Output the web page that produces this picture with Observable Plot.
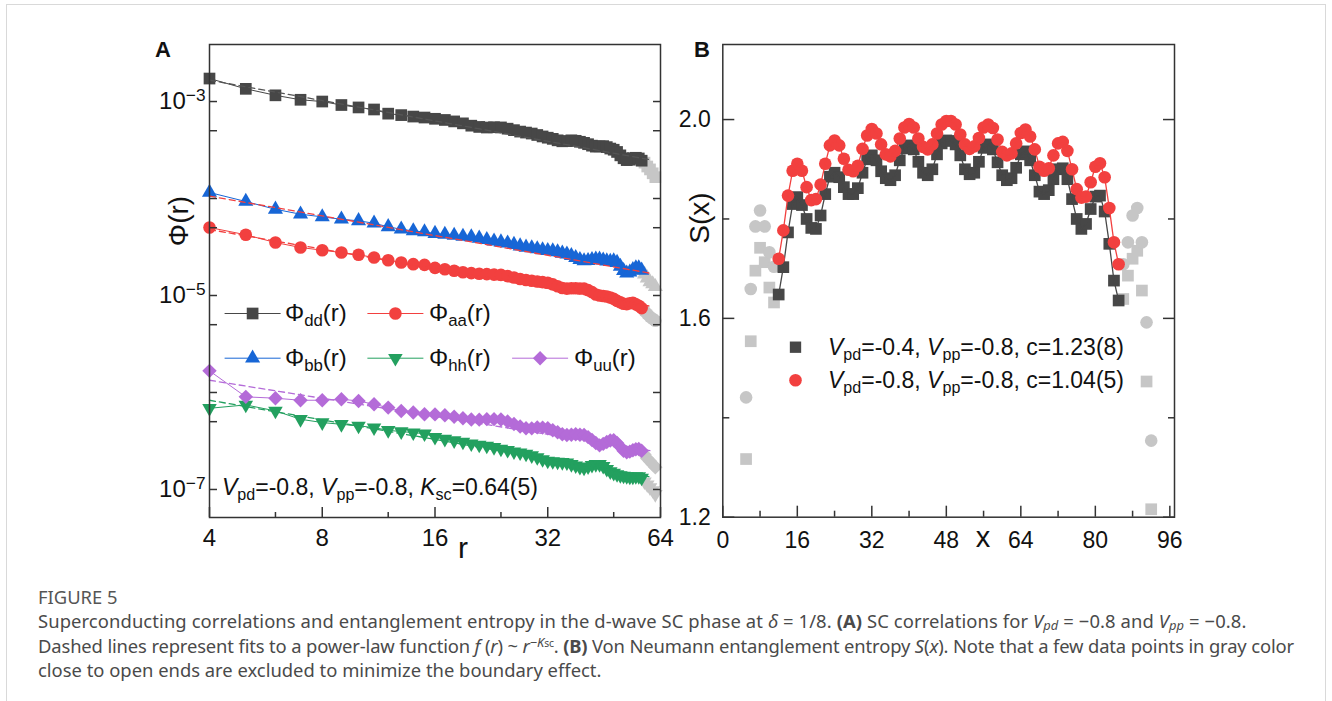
<!DOCTYPE html>
<html><head><meta charset="utf-8">
<script src="https://cdn.jsdelivr.net/npm/d3@7"></script>
<script src="https://cdn.jsdelivr.net/npm/@observablehq/plot@0.6"></script>
<style>
html,body{margin:0;padding:0;background:#fff;}
body{width:1332px;height:701px;position:relative;overflow:hidden;font-family:"Liberation Sans",Arial,sans-serif;color:#111;}
#border{position:absolute;left:6px;top:4px;width:1320px;height:760px;border:1px solid #d9d9d9;box-sizing:border-box;}
.abs{position:absolute;white-space:nowrap;line-height:1;transform:translateY(-50%);}
.rot{position:absolute;white-space:nowrap;line-height:1;transform:translate(-50%,-50%) rotate(-90deg);}
.ctr{position:absolute;white-space:nowrap;line-height:1;transform:translate(-50%,-50%);}
.sb{position:relative;top:0.28em;font-size:0.7em;}
.cap{position:absolute;left:38px;white-space:nowrap;font-family:"Noto Sans","Open Sans",sans-serif;font-size:18.4px;color:#4a4a4a;line-height:1;transform:translateY(-50%);}
.cap .s{position:relative;top:0.15em;font-size:0.7em;line-height:1;}
.cap .p{position:relative;top:-0.4em;font-size:0.7em;line-height:1;}
#A,#B{position:absolute;}
</style></head><body>
<div id="border"></div>
<div id="A" style="left:100px;top:20px;width:580px;height:560px;"></div>
<div id="B" style="left:660px;top:20px;width:540px;height:580px;"></div>

<div class="abs" style="left:155px;top:50px;font-size:22px;font-weight:bold;">A</div>
<div class="abs" style="left:694px;top:50px;font-size:22px;font-weight:bold;">B</div>
<div class="rot" style="left:179px;top:221px;font-size:28px;">Φ(r)</div>
<div class="ctr" style="left:463px;top:548px;font-size:30px;">r</div>
<div class="rot" style="left:700px;top:218px;font-size:28px;">S(x)</div>
<div class="ctr" style="left:983px;top:537px;font-size:29px;">x</div>

<div class="abs" style="left:285px;top:313px;font-size:24px;">Φ<span class="sb">dd</span>(r)</div>
<div class="abs" style="left:429px;top:313px;font-size:24px;">Φ<span class="sb">aa</span>(r)</div>
<div class="abs" style="left:285px;top:358px;font-size:24px;">Φ<span class="sb">bb</span>(r)</div>
<div class="abs" style="left:429px;top:358px;font-size:24px;">Φ<span class="sb">hh</span>(r)</div>
<div class="abs" style="left:574px;top:358px;font-size:24px;">Φ<span class="sb">uu</span>(r)</div>
<div class="abs" style="left:222px;top:487px;font-size:23px;"><i>V</i><span class="sb">pd</span>=-0.8, <i>V</i><span class="sb">pp</span>=-0.8, <i>K</i><span class="sb">sc</span>=0.64(5)</div>

<div class="abs" style="left:828px;top:347px;font-size:23px;"><i>V</i><span class="sb">pd</span>=-0.4, <i>V</i><span class="sb">pp</span>=-0.8, c=1.23(8)</div>
<div class="abs" style="left:828px;top:380px;font-size:23px;"><i>V</i><span class="sb">pd</span>=-0.8, <i>V</i><span class="sb">pp</span>=-0.8, c=1.04(5)</div>

<div class="cap" style="top:597px;color:#555;">FIGURE 5</div>
<div class="cap" style="top:621px;letter-spacing:0.1px;">Superconducting correlations and entanglement entropy in the d-wave SC phase at <i>δ</i> = 1/8. <b>(A)</b> SC correlations for <i>V</i><span class="s"><i>pd</i></span> = −0.8 and <i>V</i><span class="s"><i>pp</i></span> = −0.8.</div>
<div class="cap" style="top:645.5px;letter-spacing:-0.14px;">Dashed lines represent fits to a power-law function <i>f</i> (<i>r</i>) ~ <i>r</i><span class="p">−<i>K</i><span style="font-size:0.8em">sc</span></span>. <b>(B)</b> Von Neumann entanglement entropy <i>S</i>(<i>x</i>). Note that a few data points in gray color</div>
<div class="cap" style="top:670px;">close to open ends are excluded to minimize the boundary effect.</div>

<script>
// ---------- Panel A data (log10 of Φ(r)) ----------
const rCore = d3.range(4, 58);   // colored points r = 4..57
const rEdge = d3.range(58, 63);  // gray points r = 58..62
const phiDdLog = [-2.763,-2.869,-2.936,-2.982,-3.000,-3.036,-3.061,-3.082,-3.125,-3.140,-3.155,-3.165,-3.178,-3.190,-3.205,-3.225,-3.249,-3.262,-3.268,-3.265,-3.267,-3.280,-3.295,-3.310,-3.320,-3.330,-3.345,-3.360,-3.373,-3.385,-3.400,-3.410,-3.408,-3.400,-3.405,-3.415,-3.426,-3.440,-3.455,-3.465,-3.462,-3.460,-3.470,-3.485,-3.497,-3.520,-3.555,-3.585,-3.604,-3.600,-3.585,-3.580,-3.587,-3.610];
const phiBbLog = [-3.938,-4.031,-4.111,-4.162,-4.189,-4.214,-4.230,-4.255,-4.292,-4.317,-4.334,-4.345,-4.361,-4.370,-4.380,-4.390,-4.396,-4.410,-4.425,-4.440,-4.449,-4.460,-4.475,-4.490,-4.503,-4.510,-4.520,-4.530,-4.538,-4.540,-4.550,-4.565,-4.574,-4.590,-4.610,-4.630,-4.644,-4.640,-4.630,-4.625,-4.627,-4.635,-4.645,-4.650,-4.644,-4.660,-4.700,-4.745,-4.769,-4.760,-4.735,-4.715,-4.716,-4.740];
const phiAaLog = [-4.299,-4.374,-4.454,-4.505,-4.533,-4.557,-4.580,-4.608,-4.636,-4.660,-4.677,-4.684,-4.715,-4.730,-4.745,-4.760,-4.769,-4.775,-4.780,-4.785,-4.787,-4.800,-4.815,-4.830,-4.840,-4.848,-4.855,-4.862,-4.868,-4.885,-4.905,-4.922,-4.929,-4.925,-4.925,-4.928,-4.929,-4.945,-4.965,-4.990,-5.000,-5.005,-5.010,-5.020,-5.035,-5.055,-5.070,-5.085,-5.089,-5.080,-5.075,-5.090,-5.106,-5.130];
const phiHhLog = [-6.163,-6.128,-6.190,-6.276,-6.310,-6.328,-6.344,-6.362,-6.390,-6.403,-6.414,-6.424,-6.460,-6.480,-6.495,-6.510,-6.528,-6.540,-6.550,-6.565,-6.582,-6.595,-6.610,-6.620,-6.634,-6.650,-6.670,-6.690,-6.705,-6.710,-6.715,-6.720,-6.723,-6.740,-6.755,-6.770,-6.776,-6.765,-6.750,-6.740,-6.740,-6.760,-6.790,-6.815,-6.830,-6.845,-6.855,-6.860,-6.865,-6.870,-6.870,-6.865,-6.865,-6.880];
const phiUuLog = [-5.777,-6.045,-6.059,-6.080,-6.080,-6.070,-6.087,-6.122,-6.156,-6.190,-6.207,-6.225,-6.226,-6.235,-6.250,-6.265,-6.279,-6.280,-6.275,-6.275,-6.279,-6.300,-6.325,-6.350,-6.368,-6.370,-6.360,-6.362,-6.368,-6.390,-6.410,-6.430,-6.439,-6.435,-6.430,-6.435,-6.439,-6.460,-6.490,-6.520,-6.545,-6.530,-6.510,-6.495,-6.492,-6.520,-6.560,-6.600,-6.617,-6.610,-6.595,-6.585,-6.582,-6.600];
const edgeDdLog = [-3.630,-3.670,-3.700,-3.740,-3.780];
const edgeBbLog = [-4.780,-4.820,-4.860,-4.880,-4.910];
const edgeAaLog = [-5.160,-5.190,-5.220,-5.240,-5.260];
const edgeHhLog = [-6.920,-6.950,-6.980,-7.010,-7.050];
const edgeUuLog = [-6.640,-6.680,-6.710,-6.740,-6.770];
// power-law fit end points (r, log10 Φ)
const fitR = [4, 60];
const fitDdLog = [-2.780, -3.600];
const fitBbLog = [-3.975, -4.770];
const fitAaLog = [-4.320, -5.110];
const fitHhLog = [-6.080, -6.870];
const fitUuLog = [-5.874, -6.600];
const xTicksA = [4, 8, 16, 32, 64];
const xMinorA = [6, 12, 24, 48];
const yLabelA = [1e-7, 1e-5, 1e-3];
const yTicksA = [1e-7, 5e-7, 1e-6, 5e-6, 1e-5, 5e-5, 1e-4, 5e-4, 1e-3];

// ---------- Panel B data ----------
const xCore = d3.range(12, 86);
const xEdgeL = d3.range(5, 12);
const xEdgeR = d3.range(86, 93);
const sRed = [1.720,1.777,1.847,1.897,1.911,1.897,1.864,1.838,1.840,1.869,1.911,1.948,1.958,1.948,1.921,1.899,1.896,1.907,1.941,1.968,1.981,1.972,1.950,1.930,1.926,1.937,1.962,1.984,1.991,1.984,1.962,1.945,1.940,1.950,1.972,1.990,1.997,1.997,1.990,1.970,1.950,1.941,1.946,1.963,1.984,1.990,1.983,1.960,1.935,1.928,1.932,1.952,1.973,1.980,1.966,1.940,1.905,1.897,1.902,1.928,1.952,1.955,1.937,1.900,1.860,1.843,1.845,1.874,1.905,1.912,1.884,1.822,1.753,1.709];
const sDark = [1.648,1.703,1.773,1.830,1.844,1.828,1.800,1.782,1.780,1.807,1.850,1.885,1.893,1.884,1.864,1.850,1.850,1.862,1.893,1.920,1.928,1.918,1.896,1.882,1.878,1.888,1.918,1.942,1.948,1.940,1.915,1.893,1.888,1.900,1.930,1.952,1.958,1.957,1.950,1.928,1.900,1.890,1.893,1.915,1.943,1.950,1.940,1.914,1.888,1.878,1.882,1.903,1.930,1.936,1.918,1.888,1.855,1.850,1.858,1.880,1.900,1.902,1.880,1.840,1.800,1.780,1.790,1.820,1.845,1.847,1.815,1.750,1.676,1.636];
const grayCircL = [1.441,1.659,1.785,1.817,1.785,1.733,1.704];
const graySqL = [1.317,1.554,1.696,1.742,1.713,1.662,1.632];
const grayCircR = [1.709,1.753,1.807,1.822,1.753,1.592,1.354];
const graySqR = [1.639,1.686,1.720,1.736,1.656,1.473,1.216];
const xTicksB = [0, 16, 32, 48, 64, 80, 96];
const xMinorB = [8, 24, 40, 56, 72, 88];
const yTicksB = [1.2, 1.6, 2.0];
const yMinorB = [1.4, 1.8];

// ---------- styles ----------
const cDd = "#474747", cAa = "#f2403f", cBb = "#1766d6", cHh = "#23a05f", cUu = "#b46bd8", cGray = "#c6c6c6";
const axisStroke = "#333";
const font = "Liberation Sans, Arial, sans-serif";

const rowsLog = (xs, ls) => xs.map((x, i) => ({x, v: Math.pow(10, ls[i])}));
const rows = (xs, vs) => xs.map((x, i) => ({x, v: vs[i]}));
const triDown = {draw(ctx, size) { const y = -Math.sqrt(size / (Math.sqrt(3) * 3)); ctx.moveTo(0, -2 * y); ctx.lineTo(-Math.sqrt(3) * y, y); ctx.lineTo(Math.sqrt(3) * y, y); ctx.closePath(); }};
const hline = {draw(ctx) { ctx.moveTo(-28, 0); ctx.lineTo(28, 0); }};

const seriesA = [
  {core: phiDdLog, edge: edgeDdLog, fit: fitDdLog, color: cDd, fitColor: "#555", symbol: "square", r: 6.6},
  {core: phiBbLog, edge: edgeBbLog, fit: fitBbLog, color: cBb, fitColor: cAa, symbol: "triangle", r: 5.6},
  {core: phiAaLog, edge: edgeAaLog, fit: fitAaLog, color: cAa, fitColor: cAa, symbol: "circle", r: 6.3},
  {core: phiHhLog, edge: edgeHhLog, fit: fitHhLog, color: cHh, fitColor: cHh, symbol: triDown, r: 5.4},
  {core: phiUuLog, edge: edgeUuLog, fit: fitUuLog, color: cUu, fitColor: cUu, symbol: "diamond2", r: 6.5}
];

const marksA = [];
for (const s of seriesA) {
  marksA.push(Plot.dot(rowsLog(rEdge, s.edge), {x: "x", y: "v", symbol: s.symbol, r: s.r, fill: cGray}));
}
for (const s of seriesA) {
  const d = rowsLog(rCore, s.core);
  marksA.push(Plot.dot(d, {x: "x", y: "v", symbol: s.symbol, r: s.r, fill: s.color}));
  marksA.push(Plot.line(d, {x: "x", y: "v", stroke: s.color, strokeWidth: 1}));
}
for (const s of seriesA) {
  marksA.push(Plot.line(rowsLog(fitR, s.fit), {x: "x", y: "v", stroke: s.fitColor, strokeWidth: 1.3, strokeDasharray: "6,4"}));
}
// legend swatches (screen space, relative to the frame's top-left corner)
const legA = [
  {dx: 43.1, dy: 269, s: seriesA[0]}, {dx: 185.9, dy: 269, s: seriesA[2]},
  {dx: 43.1, dy: 313.7, s: seriesA[1]}, {dx: 185.9, dy: 313.7, s: seriesA[3]}, {dx: 330.6, dy: 313.7, s: seriesA[4]}
];
for (const l of legA) {
  marksA.push(Plot.dot([0], {frameAnchor: "top-left", dx: l.dx, dy: l.dy, symbol: hline, r: 5, fill: "none", stroke: l.s.color, strokeWidth: 1}));
  marksA.push(Plot.dot([0], {frameAnchor: "top-left", dx: l.dx, dy: l.dy, symbol: l.s.symbol, r: l.s.r, fill: l.s.color}));
}

const figA = Plot.plot({
  width: 580, height: 560,
  marginLeft: 109, marginRight: 20, marginTop: 24, marginBottom: 63,
  x: {type: "log", base: 2, domain: [4, 64]},
  y: {type: "log", domain: [Math.pow(10, -7.289), Math.pow(10, -2.412)]},
  style: {fontFamily: font, fontSize: "24px", color: "#111", background: "transparent", overflow: "visible"},
  marks: [
    ...marksA,
    Plot.frame({stroke: axisStroke, strokeWidth: 1.5}),
    Plot.axisX(xTicksA, {tickSize: 0, tickPadding: 11, label: null, tickFormat: d => String(d)}),
    Plot.axisX(xTicksA, {tickSize: -10, fill: "none", label: null, stroke: axisStroke, strokeWidth: 1.5}),
    Plot.axisX(xMinorA, {tickSize: -5, fill: "none", label: null, stroke: axisStroke, strokeWidth: 1.5}),
    Plot.axisY(yLabelA, {tickSize: 0, tickPadding: 4, label: null, tickFormat: d => "10|−" + Math.round(-Math.log10(d))}),
    Plot.axisY(yTicksA, {anchor: "left", tickSize: -8, fill: "none", label: null, stroke: axisStroke, strokeWidth: 1.5}),
    Plot.axisY(yTicksA, {anchor: "right", tickSize: -8, fill: "none", label: null, stroke: axisStroke, strokeWidth: 1.5})
  ]
});
document.getElementById("A").appendChild(figA);
d3.select(figA).selectAll("text").each(function() {
  const t = this.textContent;
  if (t.indexOf("|") < 0) return;
  const [b, e] = t.split("|");
  this.textContent = b;
  d3.select(this).append("tspan").attr("dy", "-0.45em").attr("font-size", "0.72em").text(e);
});

// ---------- Panel B ----------
const figB = Plot.plot({
  width: 540, height: 580,
  marginLeft: 62.3, marginRight: 26, marginTop: 24, marginBottom: 83.3,
  x: {domain: [0, 97]},
  y: {domain: [1.2, 2.151]},
  style: {fontFamily: font, fontSize: "23px", color: "#111", background: "transparent", overflow: "visible"},
  marks: [
    Plot.dot(rows(xEdgeL, graySqL), {x: "x", y: "v", symbol: "square", r: 6.6, fill: cGray}),
    Plot.dot(rows(xEdgeR, graySqR), {x: "x", y: "v", symbol: "square", r: 6.6, fill: cGray}),
    Plot.dot(rows(xEdgeL, grayCircL), {x: "x", y: "v", symbol: "circle", r: 6.3, fill: cGray}),
    Plot.dot(rows(xEdgeR, grayCircR), {x: "x", y: "v", symbol: "circle", r: 6.3, fill: cGray}),
    Plot.dot(rows(xCore, sDark), {x: "x", y: "v", symbol: "square", r: 6.6, fill: cDd}),
    Plot.line(rows(xCore, sDark), {x: "x", y: "v", stroke: cDd, strokeWidth: 1.3}),
    Plot.dot(rows(xCore, sRed), {x: "x", y: "v", symbol: "circle", r: 6.3, fill: cAa}),
    Plot.line(rows(xCore, sRed), {x: "x", y: "v", stroke: cAa, strokeWidth: 1.3}),
    Plot.dot([0], {frameAnchor: "top-left", dx: 72.7, dy: 302.7, symbol: "square", r: 6.4, fill: cDd}),
    Plot.dot([0], {frameAnchor: "top-left", dx: 72.7, dy: 335.7, symbol: "circle", r: 6.3, fill: cAa}),
    Plot.frame({stroke: axisStroke, strokeWidth: 1.5}),
    Plot.axisX(xTicksB, {tickSize: 0, tickPadding: 14, label: null, tickFormat: d => String(d)}),
    Plot.axisX(xTicksB, {tickSize: -11, fill: "none", label: null, stroke: axisStroke, strokeWidth: 1.5}),
    Plot.axisX(xMinorB, {tickSize: -6, fill: "none", label: null, stroke: axisStroke, strokeWidth: 1.5}),
    Plot.axisY(yTicksB, {tickSize: 0, tickPadding: 12, label: null, tickFormat: d3.format(".1f")}),
    Plot.axisY(yTicksB, {anchor: "left", tickSize: -12, fill: "none", label: null, stroke: axisStroke, strokeWidth: 1.5}),
    Plot.axisY(yMinorB, {anchor: "left", tickSize: -7, fill: "none", label: null, stroke: axisStroke, strokeWidth: 1.5}),
    Plot.axisY(yTicksB, {anchor: "right", tickSize: -12, fill: "none", label: null, stroke: axisStroke, strokeWidth: 1.5}),
    Plot.axisY(yMinorB, {anchor: "right", tickSize: -7, fill: "none", label: null, stroke: axisStroke, strokeWidth: 1.5})
  ]
});
document.getElementById("B").appendChild(figB);
</script>
</body></html>
